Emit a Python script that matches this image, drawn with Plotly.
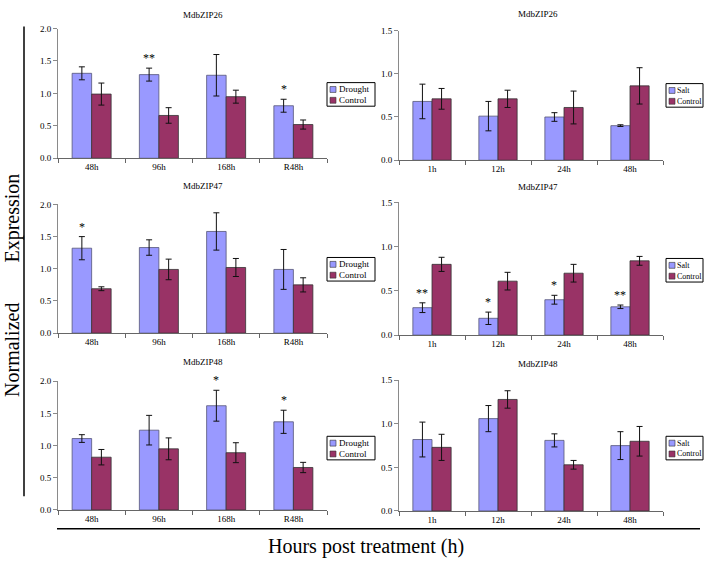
import plotly.graph_objects as go

# ---------------- data ----------------
drought_times = ["48h", "96h", "168h", "R48h"]
salt_times = ["1h", "12h", "24h", "48h"]

genes = ["MdbZIP26", "MdbZIP47", "MdbZIP48"]

drought26 = [1.31, 1.29, 1.28, 0.81]
drought26_err = [0.10, 0.10, 0.32, 0.10]
ctrl26_d = [0.99, 0.66, 0.95, 0.52]
ctrl26_d_err = [0.17, 0.12, 0.10, 0.07]
salt26 = [0.68, 0.51, 0.50, 0.40]
salt26_err = [0.20, 0.17, 0.05, 0.01]
ctrl26_s = [0.71, 0.71, 0.61, 0.86]
ctrl26_s_err = [0.12, 0.10, 0.19, 0.21]

drought47 = [1.32, 1.33, 1.58, 0.99]
drought47_err = [0.18, 0.12, 0.29, 0.31]
ctrl47_d = [0.69, 0.99, 1.02, 0.75]
ctrl47_d_err = [0.03, 0.16, 0.14, 0.11]
salt47 = [0.31, 0.19, 0.40, 0.32]
salt47_err = [0.055, 0.07, 0.05, 0.02]
ctrl47_s = [0.80, 0.61, 0.70, 0.84]
ctrl47_s_err = [0.08, 0.10, 0.10, 0.05]

drought48 = [1.11, 1.24, 1.62, 1.37]
drought48_err = [0.06, 0.23, 0.24, 0.18]
ctrl48_d = [0.82, 0.95, 0.89, 0.66]
ctrl48_d_err = [0.12, 0.17, 0.155, 0.08]
salt48 = [0.82, 1.06, 0.81, 0.75]
salt48_err = [0.20, 0.15, 0.075, 0.16]
ctrl48_s = [0.73, 1.28, 0.53, 0.80]
ctrl48_s_err = [0.15, 0.10, 0.05, 0.17]

sig_drought26 = ["", "**", "", "*"]
sig_salt26 = ["", "", "", ""]
sig_drought47 = ["*", "", "", ""]
sig_salt47 = ["**", "*", "*", "**"]
sig_drought48 = ["", "", "*", "*"]
sig_salt48 = ["", "", "", ""]

drought_ticks = [0, 0.5, 1.0, 1.5, 2.0]
salt_ticks = [0, 0.5, 1.0, 1.5]

# ---------------- style ----------------
W, H = 709, 569
FONT = "Liberation Serif"
C_TREAT = "#9999FF"
C_CTRL = "#993366"


def xp(px):
    return px / W


def yp(py):
    return 1 - py / H


panels = [
    # gene, cats, treat name, treat, terr, ctrl, cerr, sig, ymax, ticks, x-dom px, y-dom px, title px, legend px
    (genes[0], drought_times, "Drought", drought26, drought26_err, ctrl26_d, ctrl26_d_err, sig_drought26, 2.0, drought_ticks, (58, 327), (24, 156), (203, 10), (327, 79)),
    (genes[0], salt_times, "Salt", salt26, salt26_err, ctrl26_s, ctrl26_s_err, sig_salt26, 1.5, salt_ticks, (399, 663), (26, 158), (538, 9), (666, 80)),
    (genes[1], drought_times, "Drought", drought47, drought47_err, ctrl47_d, ctrl47_d_err, sig_drought47, 2.0, drought_ticks, (58, 327), (203, 334), (203, 184), (327, 257)),
    (genes[1], salt_times, "Salt", salt47, salt47_err, ctrl47_s, ctrl47_s_err, sig_salt47, 1.5, salt_ticks, (399, 663), (201, 336), (538, 185), (666, 258)),
    (genes[2], drought_times, "Drought", drought48, drought48_err, ctrl48_d, ctrl48_d_err, sig_drought48, 2.0, drought_ticks, (58, 327), (383, 514), (203, 363), (327, 439)),
    (genes[2], salt_times, "Salt", salt48, salt48_err, ctrl48_s, ctrl48_s_err, sig_salt48, 1.5, salt_ticks, (399, 663), (382, 515), (538, 365), (666, 439)),
]

fig = go.Figure()
annotations = []
shapes = []

for i, (gene, cats, tname, tv, te, cv, ce, sig, ymax, ticks, xd, yd, tpos, lpos) in enumerate(panels):
    n = "" if i == 0 else str(i + 1)
    xa, ya = "x" + n, "y" + n
    err_style = dict(type="data", visible=True, thickness=1, width=3, color="#111111")
    fig.add_trace(go.Bar(
        x=cats, y=tv, name=tname, xaxis=xa, yaxis=ya, showlegend=False,
        marker=dict(color=C_TREAT, line=dict(color="#555577", width=0.8)),
        error_y=dict(array=te, **err_style), offsetgroup="t"))
    fig.add_trace(go.Bar(
        x=cats, y=cv, name="Control", xaxis=xa, yaxis=ya, showlegend=False,
        marker=dict(color=C_CTRL, line=dict(color="#333333", width=0.8)),
        error_y=dict(array=ce, **err_style), offsetgroup="c"))

    axis_common = dict(showgrid=False, zeroline=False, showline=True,
                       ticks="outside", ticklen=4, tickwidth=1,
                       tickfont=dict(family=FONT, size=9, color="black"))
    fig.layout["xaxis" + n] = dict(
        domain=[xp(xd[0]), xp(xd[1])], anchor=ya, type="category",
        tickson="boundaries", linecolor="#666666", tickcolor="#666666",
        categoryorder="array", categoryarray=cats, **axis_common)
    fig.layout["yaxis" + n] = dict(
        domain=[yp(yd[1]), yp(yd[0])], anchor=xa, range=[0, ymax],
        tickvals=ticks, ticktext=["%.1f" % t for t in ticks],
        linecolor="#8a8a8a", tickcolor="#8a8a8a", **axis_common)

    # significance stars above the treatment bars
    for c, v, e, s in zip(cats, tv, te, sig):
        if s:
            annotations.append(dict(
                x=c, y=v + e, xref=xa, yref=ya, text=s, showarrow=False,
                xshift=-9.7, yshift=1, yanchor="bottom",
                font=dict(family=FONT, size=12, color="black")))

    # panel title
    annotations.append(dict(
        x=xp(tpos[0]), y=yp(tpos[1]), xref="paper", yref="paper", text=gene,
        showarrow=False, xanchor="center", yanchor="middle",
        font=dict(family=FONT, size=9, color="black")))

    # legend box
    lx, ly = lpos
    is_d = tname == "Drought"
    lw = 48 if is_d else 37
    lfs = 9 if is_d else 8
    shapes.append(dict(type="rect", xref="paper", yref="paper",
                       x0=xp(lx), x1=xp(lx + lw), y0=yp(ly + 24), y1=yp(ly),
                       line=dict(color="black", width=1), fillcolor="white"))
    for k, (lab, col) in enumerate([(tname, C_TREAT), ("Control", C_CTRL)]):
        cy = ly + 7 + 11 * k
        shapes.append(dict(type="rect", xref="paper", yref="paper",
                           x0=xp(lx + 3), x1=xp(lx + 9), y0=yp(cy + 3), y1=yp(cy - 3),
                           line=dict(color="#333333", width=0.6), fillcolor=col))
        annotations.append(dict(
            x=xp(lx + 9 if not is_d else lx + 10), y=yp(cy), xref="paper", yref="paper",
            text=lab, showarrow=False, xanchor="left", yanchor="middle",
            font=dict(family=FONT, size=lfs, color="black")))

# outer decorations: vertical line, horizontal line, axis titles
shapes.append(dict(type="line", xref="paper", yref="paper",
                   x0=xp(24), x1=xp(24), y0=yp(500), y1=yp(22),
                   line=dict(color="black", width=1.5)))
shapes.append(dict(type="line", xref="paper", yref="paper",
                   x0=xp(57), x1=xp(700), y0=yp(533), y1=yp(533),
                   line=dict(color="black", width=1.5)))
annotations.append(dict(
    x=xp(13), y=yp(286), xref="paper", yref="paper",
    text="Normalized" + "&nbsp;" * 8 + "Expression", textangle=-90,
    showarrow=False, xanchor="center", yanchor="middle",
    font=dict(family=FONT, size=20, color="black")))
annotations.append(dict(
    x=xp(366), y=yp(551), xref="paper", yref="paper",
    text="Hours post treatment (h)", showarrow=False,
    xanchor="center", yanchor="middle",
    font=dict(family=FONT, size=20, color="black")))

fig.update_layout(
    width=W, height=H, margin=dict(l=0, r=0, t=0, b=0),
    paper_bgcolor="white", plot_bgcolor="white",
    barmode="group", bargap=0.42, bargroupgap=0,
    font=dict(family=FONT, size=9, color="black"),
    annotations=annotations, shapes=shapes, showlegend=False,
)

fig.write_html(
    "out.html",
    config={"displayModeBar": False, "staticPlot": True},
    post_script="document.body.style.margin='0';document.body.style.overflow='hidden';",
)
